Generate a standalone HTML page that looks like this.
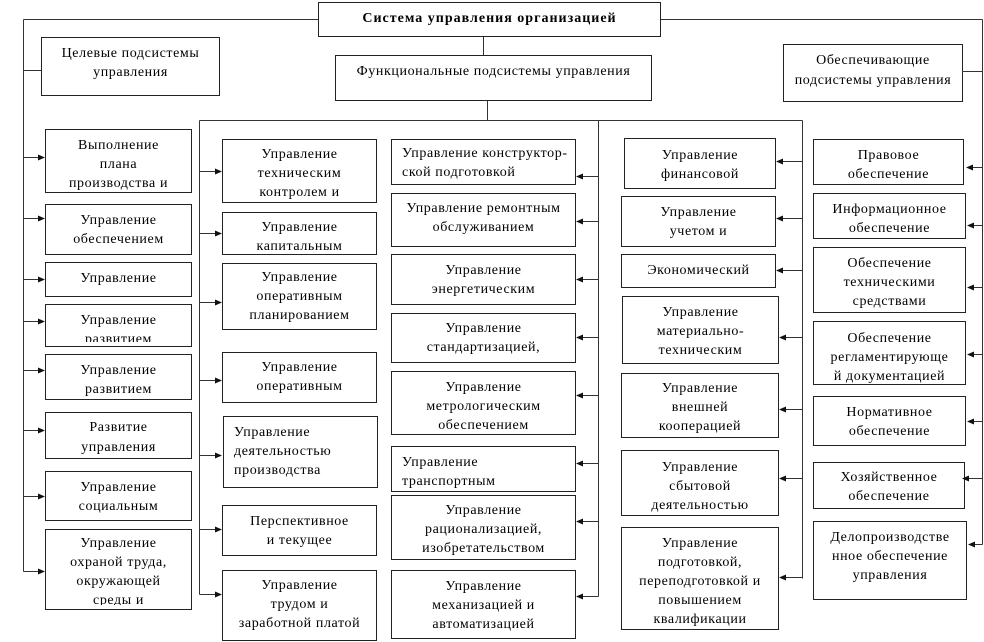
<!DOCTYPE html>
<html><head><meta charset="utf-8"><style>
html,body{margin:0;padding:0;}
body{width:984px;height:642px;background:#fff;position:relative;overflow:hidden;font-family:"Liberation Serif","Noto Serif CJK SC",serif;}
.b{position:absolute;border:1px solid #222;box-sizing:border-box;overflow:hidden;font-size:14px;line-height:19px;text-align:center;color:#000;letter-spacing:0.6px;white-space:nowrap;background:#fff;}
.b>div{height:100%;overflow:hidden;padding-top:6px;box-sizing:border-box;}
.b.c>div{height:calc(100% - 4px);}
.l>div{text-align:left;padding-left:10px;}
svg{position:absolute;left:0;top:0;}
</style></head><body>

<div class="b" style="left:318px;top:2px;width:343px;height:35px;font-weight:bold;letter-spacing:1px;"><div>Система управления организацией</div></div>
<div class="b" style="left:41px;top:37px;width:179px;height:59px;"><div>Целевые подсистемы<br>управления</div></div>
<div class="b" style="left:335px;top:55px;width:317px;height:46px;"><div>Функциональные подсистемы управления</div></div>
<div class="b" style="left:783px;top:44px;width:180px;height:58px;line-height:20px;"><div>Обеспечивающие<br>подсистемы управления</div></div>

<!-- left column -->
<div class="b" style="left:45px;top:129px;width:147px;height:64px;"><div>Выполнение<br>плана<br>производства и</div></div>
<div class="b" style="left:45px;top:204px;width:147px;height:51px;"><div>Управление<br>обеспечением</div></div>
<div class="b" style="left:45px;top:262px;width:147px;height:35px;"><div>Управление</div></div>
<div class="b c" style="left:45px;top:304px;width:147px;height:43px;"><div>Управление<br>развитием</div></div>
<div class="b" style="left:45px;top:354px;width:147px;height:46px;"><div>Управление<br>развитием</div></div>
<div class="b" style="left:45px;top:412px;width:147px;height:47px;line-height:20px;"><div style="padding-top:5px;">Развитие<br>управления</div></div>
<div class="b" style="left:45px;top:471px;width:147px;height:50px;"><div>Управление<br>социальным</div></div>
<div class="b c" style="left:45px;top:529px;width:147px;height:81px;"><div style="padding-top:4px;">Управление<br>охраной труда,<br>окружающей<br>среды и</div></div>

<!-- second column -->
<div class="b" style="left:222px;top:139px;width:155px;height:64px;"><div style="padding-top:5px;height:calc(100% - 3px);">Управление<br>техническим<br>контролем и</div></div>
<div class="b c" style="left:222px;top:212px;width:155px;height:43px;"><div style="padding-top:5px;">Управление<br>капитальным</div></div>
<div class="b" style="left:222px;top:263px;width:155px;height:67px;"><div style="padding-top:4px;">Управление<br>оперативным<br>планированием</div></div>
<div class="b" style="left:222px;top:352px;width:155px;height:51px;"><div style="padding-top:5px;">Управление<br>оперативным</div></div>
<div class="b l" style="left:223px;top:416px;width:155px;height:72px;"><div>Управление<br>деятельностью<br>производства</div></div>
<div class="b" style="left:222px;top:505px;width:155px;height:51px;"><div>Перспективное<br>и текущее</div></div>
<div class="b" style="left:222px;top:570px;width:155px;height:71px;"><div style="padding-top:5px;">Управление<br>трудом и<br>заработной платой</div></div>

<!-- third column -->
<div class="b l" style="left:391px;top:139px;width:185px;height:46px;"><div style="padding-top:4px;">Управление конструктор-<br>ской подготовкой</div></div>
<div class="b" style="left:391px;top:193px;width:185px;height:54px;"><div style="padding-top:5px;">Управление ремонтным<br>обслуживанием</div></div>
<div class="b" style="left:391px;top:254px;width:185px;height:51px;"><div>Управление<br>энергетическим</div></div>
<div class="b" style="left:391px;top:313px;width:185px;height:50px;"><div style="padding-top:5px;">Управление<br>стандартизацией,</div></div>
<div class="b" style="left:391px;top:371px;width:185px;height:64px;"><div>Управление<br>метрологическим<br>обеспечением</div></div>
<div class="b l" style="left:391px;top:446px;width:185px;height:46px;"><div>Управление<br>транспортным</div></div>
<div class="b" style="left:391px;top:495px;width:185px;height:65px;"><div style="padding-top:5px;">Управление<br>рационализацией,<br>изобретательством</div></div>
<div class="b" style="left:391px;top:570px;width:185px;height:69px;"><div>Управление<br>механизацией и<br>автоматизацией</div></div>

<!-- fourth column -->
<div class="b" style="left:624px;top:138px;width:152px;height:51px;"><div style="padding-top:7px;">Управление<br>финансовой</div></div>
<div class="b" style="left:621px;top:196px;width:155px;height:51px;"><div>Управление<br>учетом и</div></div>
<div class="b" style="left:621px;top:254px;width:155px;height:34px;"><div>Экономический</div></div>
<div class="b" style="left:622px;top:296px;width:157px;height:68px;"><div>Управление<br>материально-<br>техническим</div></div>
<div class="b" style="left:621px;top:373px;width:158px;height:65px;"><div style="padding-top:5px;">Управление<br>внешней<br>кооперацией</div></div>
<div class="b" style="left:621px;top:450px;width:158px;height:66px;"><div style="padding-top:7px;">Управление<br>сбытовой<br>деятельностью</div></div>
<div class="b" style="left:621px;top:527px;width:158px;height:103px;"><div>Управление<br>подготовкой,<br>переподготовкой и<br>повышением<br>квалификации</div></div>

<!-- right column -->
<div class="b" style="left:813px;top:139px;width:151px;height:46px;"><div>Правовое<br>обеспечение</div></div>
<div class="b" style="left:813px;top:193px;width:153px;height:46px;"><div>Информационное<br>обеспечение</div></div>
<div class="b" style="left:813px;top:247px;width:153px;height:66px;"><div>Обеспечение<br>техническими<br>средствами</div></div>
<div class="b" style="left:813px;top:321px;width:153px;height:64px;"><div style="padding-top:7px;">Обеспечение<br>регламентирующе<br>й документацией</div></div>
<div class="b" style="left:813px;top:396px;width:153px;height:50px;"><div>Нормативное<br>обеспечение</div></div>
<div class="b" style="left:813px;top:462px;width:152px;height:47px;"><div style="padding-top:5px;">Хозяйственное<br>обеспечение</div></div>
<div class="b" style="left:813px;top:521px;width:154px;height:79px;"><div>Делопроизводстве<br>нное обеспечение<br>управления</div></div>

<svg width="984" height="642" viewBox="0 0 984 642">
<g stroke="#333" stroke-width="1" fill="none" shape-rendering="crispEdges">
<path d="M23.5 19.5H318M661 19.5H982.5"/>
<path d="M23.5 19.5V571.5"/>
<path d="M982.5 19.5V544.5"/>
<path d="M23.5 70.5H41"/>
<path d="M962 71.5H982.5"/>
<path d="M483.5 37V55"/>
<path d="M487.5 101V120.5"/>
<path d="M199.5 120.5H802.5"/>
<path d="M199.5 120.5V594.5"/>
<path d="M598.5 120.5V596.5"/>
<path d="M802.5 120.5V578.5"/>
<path d="M23.5 157.5H40M23.5 218.5H40M23.5 279.5H40M23.5 321.5H40M23.5 370.5H40M23.5 430.5H40M23.5 496.5H40M23.5 571.5H40"/>
<path d="M199.5 171.5H216M199.5 233.5H216M199.5 302.5H216M199.5 380.5H216M199.5 455.5H216M199.5 529.5H216M199.5 594.5H216"/>
<path d="M598.5 176.5H582M598.5 221.5H582M598.5 279.5H582M598.5 337.5H582M598.5 395.5H582M598.5 463.5H582M598.5 521.5H582M598.5 596.5H582"/>
<path d="M802.5 161.5H782M802.5 218.5H782M802.5 270.5H782M802.5 337.5H785M802.5 409.5H785M802.5 478.5H785M802.5 577.5H785"/>
<path d="M982.5 167.5H970M982.5 225.5H972M982.5 287.5H972M982.5 354.5H972M982.5 421.5H972M982.5 478.5H968M982.5 544.5H973"/>
</g>
<g fill="#111">
<polygon points="45,157.5 38,154.5 38,160.5"/>
<polygon points="45,218.5 38,215.5 38,221.5"/>
<polygon points="45,279.5 38,276.5 38,282.5"/>
<polygon points="45,321.5 38,318.5 38,324.5"/>
<polygon points="45,370.5 38,367.5 38,373.5"/>
<polygon points="45,430.5 38,427.5 38,433.5"/>
<polygon points="45,496.5 38,493.5 38,499.5"/>
<polygon points="45,571.5 38,568.5 38,574.5"/>

<polygon points="222,171.5 215,168.5 215,174.5"/>
<polygon points="222,233.5 215,230.5 215,236.5"/>
<polygon points="222,302.5 215,299.5 215,305.5"/>
<polygon points="222,380.5 215,377.5 215,383.5"/>
<polygon points="222,455.5 215,452.5 215,458.5"/>
<polygon points="222,529.5 215,526.5 215,532.5"/>
<polygon points="222,594.5 215,591.5 215,597.5"/>

<polygon points="576,176.5 583,173.5 583,179.5"/>
<polygon points="576,221.5 583,218.5 583,224.5"/>
<polygon points="576,279.5 583,276.5 583,282.5"/>
<polygon points="576,337.5 583,334.5 583,340.5"/>
<polygon points="576,395.5 583,392.5 583,398.5"/>
<polygon points="576,463.5 583,460.5 583,466.5"/>
<polygon points="576,521.5 583,518.5 583,524.5"/>
<polygon points="576,596.5 583,593.5 583,599.5"/>

<polygon points="776,161.5 783,158.5 783,164.5"/>
<polygon points="776,218.5 783,215.5 783,221.5"/>
<polygon points="776,270.5 783,267.5 783,273.5"/>
<polygon points="779,337.5 786,334.5 786,340.5"/>
<polygon points="779,409.5 786,406.5 786,412.5"/>
<polygon points="779,478.5 786,475.5 786,481.5"/>
<polygon points="779,577.5 786,574.5 786,580.5"/>

<polygon points="966,167.5 973,164.5 973,170.5"/>
<polygon points="967,225.5 974,222.5 974,228.5"/>
<polygon points="967,287.5 974,284.5 974,290.5"/>
<polygon points="967,354.5 974,351.5 974,357.5"/>
<polygon points="967,421.5 974,418.5 974,424.5"/>
<polygon points="962,478.5 969,475.5 969,481.5"/>
<polygon points="968,544.5 975,541.5 975,547.5"/>
</g>
</svg>
</body></html>
